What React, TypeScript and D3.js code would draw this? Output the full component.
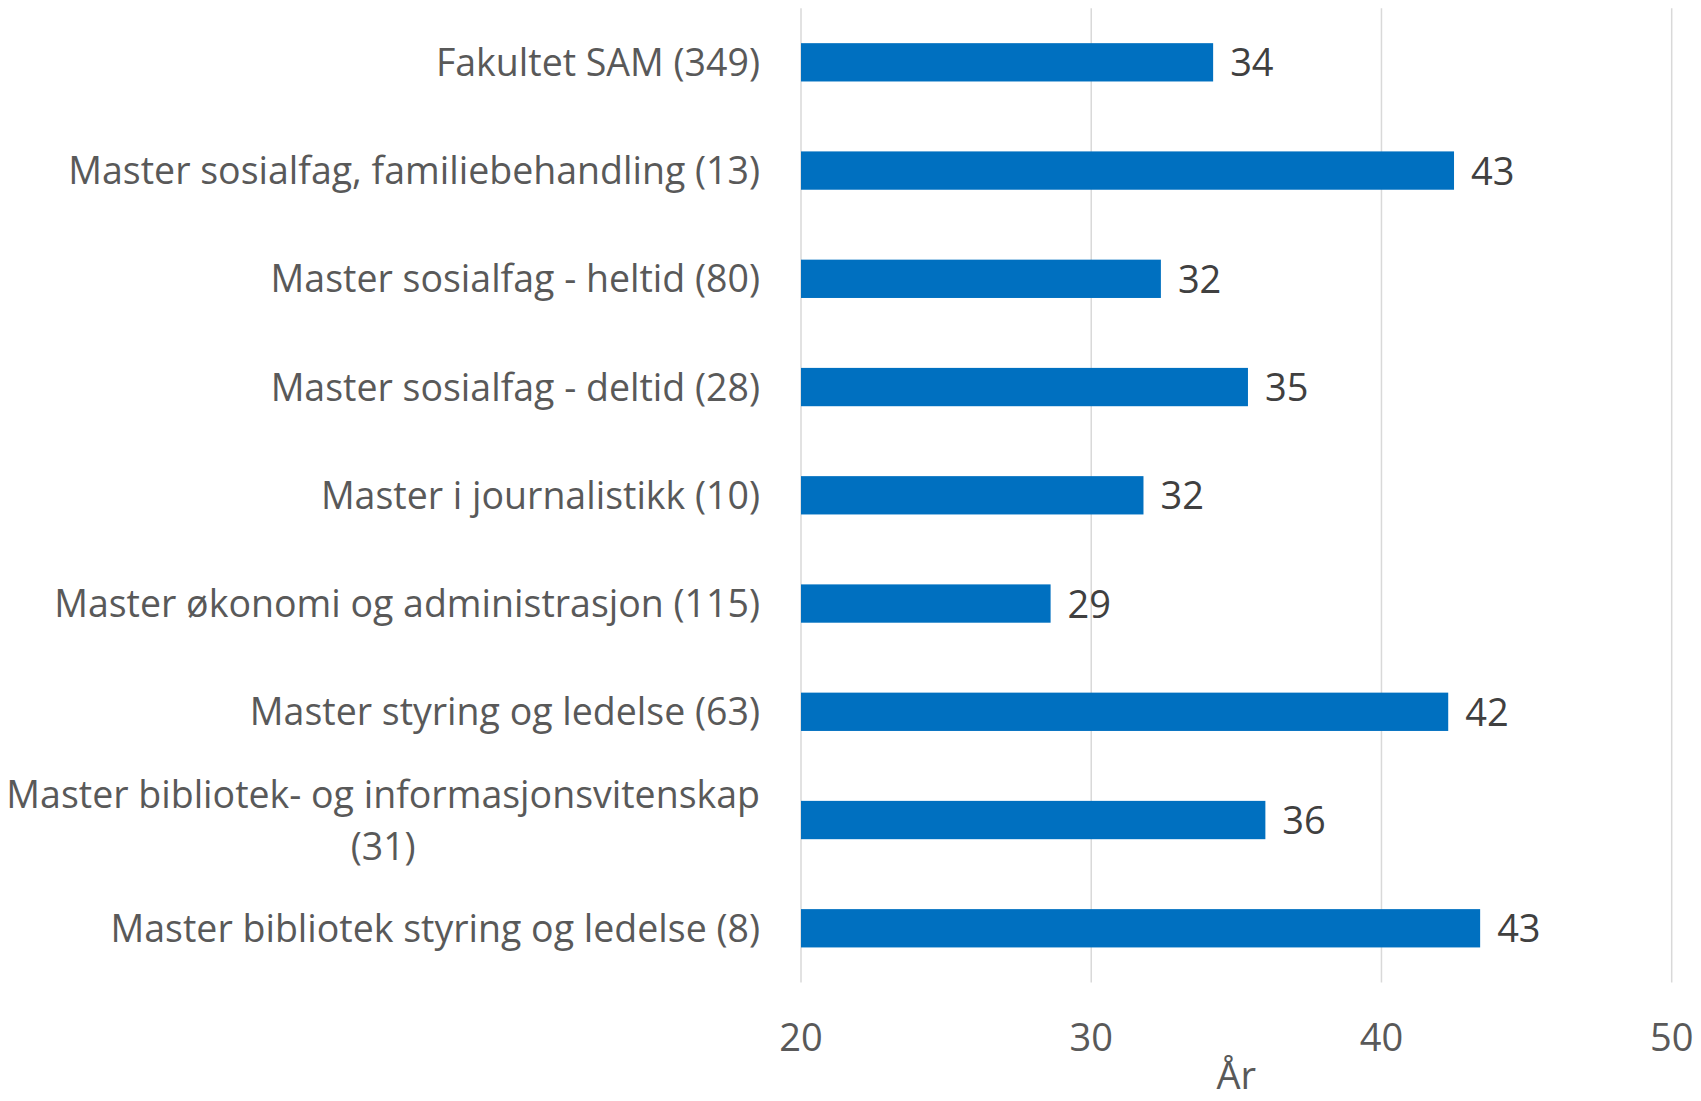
import React, { useEffect, useRef } from "react";
import * as d3 from "d3";

const categories: string[][] = [
  ["Fakultet SAM (349)"],
  ["Master sosialfag, familiebehandling (13)"],
  ["Master sosialfag - heltid (80)"],
  ["Master sosialfag - deltid (28)"],
  ["Master i journalistikk (10)"],
  ["Master økonomi og administrasjon (115)"],
  ["Master styring og ledelse (63)"],
  ["Master bibliotek- og informasjonsvitenskap", "(31)"],
  ["Master bibliotek styring og ledelse (8)"],
];
const values: number[] = [34.2, 42.5, 32.4, 35.4, 31.8, 28.6, 42.3, 36.0, 43.4];
const xTicks: number[] = [20, 30, 40, 50];
const axisTitle = "År";

const W = 1701;
const H = 1101;
const FONT = "'Open Sans', sans-serif";

export default function App() {
  const ref = useRef<SVGSVGElement>(null);
  useEffect(() => {
    const svg = d3.select(ref.current);
    svg.selectAll("*").remove();
    const x = d3.scaleLinear().domain([20, 50]).range([801, 1671.7]);
    const ids = categories.map((_, i) => String(i));
    const y = d3.scaleBand<string>().domain(ids).range([8.2, 982.4]).paddingInner(0.646).paddingOuter(0.323);

    const g = svg.append("g");
    g.selectAll("line.grid")
      .data(xTicks)
      .enter()
      .append("line")
      .attr("x1", (d) => x(d))
      .attr("x2", (d) => x(d))
      .attr("y1", 8.2)
      .attr("y2", 982.4)
      .attr("stroke", "#d9d9d9")
      .attr("stroke-width", 1.5);

    g.selectAll("rect.bar")
      .data(values)
      .enter()
      .append("rect")
      .attr("x", x(20))
      .attr("y", (_, i) => y(ids[i]) as number)
      .attr("width", (d) => x(d) - x(20))
      .attr("height", y.bandwidth())
      .attr("fill", "#0070c0");

    g.selectAll("text.val")
      .data(values)
      .enter()
      .append("text")
      .attr("x", (d) => x(d) + 17)
      .attr("y", (_, i) => (y(ids[i]) as number) + y.bandwidth() / 2)
      .attr("dy", "0.37em")
      .attr("font-family", FONT)
      .attr("font-size", 38)
      .attr("fill", "#404040")
      .text((d) => String(Math.round(d)));

    categories.forEach((lines, i) => {
      const cy = (y(ids[i]) as number) + y.bandwidth() / 2;
      const rightEdge = 760;
      const lh = 52;
      const t = g
        .append("text")
        .attr("font-family", FONT)
        .attr("font-size", 37.5)
        .attr("fill", "#595959");
      const tspans = lines.map((ln, j) =>
        t
          .append("tspan")
          .attr("y", cy + (j - (lines.length - 1) / 2) * lh)
          .attr("dy", "0.36em")
          .text(ln)
      );
      if (lines.length === 1) {
        t.attr("text-anchor", "end");
        tspans.forEach((s) => s.attr("x", rightEdge));
      } else {
        const maxW = Math.max(...tspans.map((s) => (s.node() as SVGTSpanElement).getComputedTextLength()));
        t.attr("text-anchor", "middle");
        tspans.forEach((s) => s.attr("x", rightEdge - maxW / 2));
      }
    });

    g.selectAll("text.tick")
      .data(xTicks)
      .enter()
      .append("text")
      .attr("x", (d) => x(d))
      .attr("y", 1051)
      .attr("text-anchor", "middle")
      .attr("font-family", FONT)
      .attr("font-size", 38)
      .attr("fill", "#595959")
      .text((d) => String(d));

    g.append("text")
      .attr("x", (x(20) + x(50)) / 2)
      .attr("y", 1089)
      .attr("text-anchor", "middle")
      .attr("font-family", FONT)
      .attr("font-size", 38)
      .attr("fill", "#595959")
      .text(axisTitle);
  }, []);
  return (
    <div style={{ position: "absolute", left: 0, top: 0 }}>
      <svg ref={ref} width={W} height={H} style={{ display: "block", background: "#fff" }} />
    </div>
  );
}
